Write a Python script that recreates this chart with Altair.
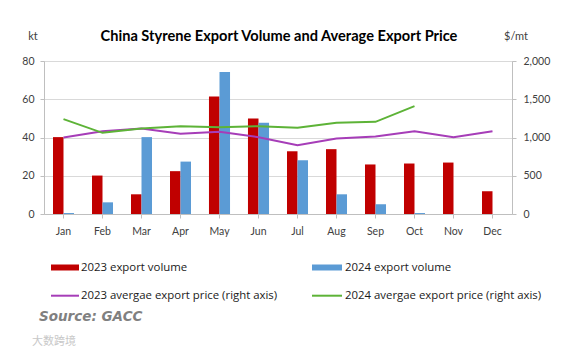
import altair as alt
import pandas as pd

months = ["Jan", "Feb", "Mar", "Apr", "May", "Jun", "Jul", "Aug", "Sep", "Oct", "Nov", "Dec"]
vol_2023 = [40.2, 20.1, 10.3, 22.4, 61.5, 50.0, 32.8, 33.9, 25.9, 26.4, 26.9, 11.9]
vol_2024 = [0.5, 6.1, 40.2, 27.4, 74.2, 47.7, 28.1, 10.3, 5.1, 0.5, None, None]
price_2023 = [1000, 1083, 1118, 1048, 1074, 1004, 900, 987, 1013, 1083, 1004, 1083]
price_2024 = [1240, 1061, 1118, 1148, 1135, 1148, 1127, 1192, 1205, 1410, None, None]

bar_series = ["2023 export volume", "2024 export volume"]
line_series = ["2023 avergae export price (right axis)", "2024 avergae export price (right axis)"]

RED = "#C00000"
BLUE = "#5B9BD5"
PURPLE = "#A63DB8"
GREEN = "#5DB337"
FONT = "Lato"
LFONT = "Open Sans"

bars_df = pd.DataFrame({
    "month": months * 2,
    "series": [bar_series[0]] * 12 + [bar_series[1]] * 12,
    "volume": vol_2023 + vol_2024,
}).dropna()

price_df = pd.DataFrame({
    "month": months * 2,
    "series": [line_series[0]] * 12 + [line_series[1]] * 12,
    "price": price_2023 + price_2024,
}).dropna()

x_enc = alt.X(
    "month:N", sort=months,
    scale=alt.Scale(paddingInner=0.46, paddingOuter=0.23),
    axis=alt.Axis(title=None, labelAngle=0, labelFont=FONT, labelFontSize=10.5,
                  labelColor="#404040", domainColor="#BFBFBF", tickColor="#BFBFBF",
                  tickSize=4, labelPadding=8, grid=False),
)

bars = alt.Chart(bars_df).mark_bar().encode(
    x=x_enc,
    xOffset=alt.XOffset("series:N", sort=bar_series,
                        scale=alt.Scale(paddingInner=0, paddingOuter=0)),
    y=alt.Y("volume:Q", scale=alt.Scale(domain=[0, 80]),
            axis=alt.Axis(title=None, values=[0, 20, 40, 60, 80], labelFont=FONT,
                          labelFontSize=10.5, labelColor="#404040",
                          domainColor="#BFBFBF", tickColor="#BFBFBF", tickSize=4,
                          labelPadding=6, gridColor="#D9D9D9", grid=True)),
    color=alt.Color("series:N", scale=alt.Scale(domain=bar_series, range=[RED, BLUE]),
                    legend=None),
)

lines = alt.Chart(price_df).mark_line(strokeWidth=2).encode(
    x=alt.X("month:N", sort=months),
    y=alt.Y("price:Q", scale=alt.Scale(domain=[0, 2000]),
            axis=alt.Axis(title=None, orient="right", values=[0, 500, 1000, 1500, 2000],
                          format=",.0f", labelFont=FONT, labelFontSize=10.5,
                          labelColor="#404040", domainColor="#BFBFBF",
                          tickColor="#BFBFBF", tickSize=4, labelPadding=7, grid=False)),
    color=alt.Color("series:N", scale=alt.Scale(domain=line_series, range=[PURPLE, GREEN]),
                    legend=None),
)


def text(t, x, y, **kw):
    return alt.Chart(pd.DataFrame({"t": [t]})).mark_text(**kw).encode(
        x=alt.value(x), y=alt.value(y), text="t:N")


def rect(x1, x2, y1, y2, color):
    return alt.Chart(pd.DataFrame({"a": [0]})).mark_rect(color=color).encode(
        x=alt.value(x1), x2=alt.value(x2), y=alt.value(y1), y2=alt.value(y2))


def rule(x1, x2, y, color):
    return alt.Chart(pd.DataFrame({"a": [0]})).mark_rule(color=color, strokeWidth=2).encode(
        x=alt.value(x1), x2=alt.value(x2), y=alt.value(y))


decor = [
    text("China Styrene Export Volume and Average  Export Price", 235, -24,
         font=FONT, fontSize=14.6, fontWeight="bold", color="#000000",
         align="center", baseline="middle"),
    text("kt", -11, -24, font=FONT, fontSize=11, color="#404040",
         align="center", baseline="middle"),
    text("$/mt", 472, -24, font=FONT, fontSize=11, color="#404040",
         align="center", baseline="middle"),
    rect(7, 35, 203.5, 209.5, RED),
    text(bar_series[0], 37, 206.5, font=LFONT, fontSize=11.4, color="#1A1A1A",
         align="left", baseline="middle"),
    rect(268, 298, 203.5, 209.5, BLUE),
    text(bar_series[1], 301, 206.5, font=LFONT, fontSize=11.4, color="#1A1A1A",
         align="left", baseline="middle"),
    rule(7, 35, 234.7, PURPLE),
    text(line_series[0], 37, 234.7, font=LFONT, fontSize=11.4, color="#1A1A1A",
         align="left", baseline="middle"),
    rule(268, 298, 234.7, GREEN),
    text(line_series[1], 301, 234.7, font=LFONT, fontSize=11.4, color="#1A1A1A",
         align="left", baseline="middle"),
    text("Source: GACC", -5, 255.7, font="DejaVu Sans", fontSize=13.5,
         fontWeight="bold", fontStyle="italic", color="#808080",
         align="left", baseline="middle"),
    text("大数跨境", -12, 280.7, font="Noto Sans CJK SC", fontSize=11,
         color="#C8C8C8", align="left", baseline="middle"),
]

chart = alt.layer(bars, lines, *decor).resolve_scale(
    y="independent", color="independent"
).properties(
    width=468, height=153,
    autosize=alt.AutoSizeParams(type="none"),
    padding={"left": 44, "top": 61, "right": 55, "bottom": 138},
).configure_view(stroke=None).configure(background="#FFFFFF")

chart.save("out.html", embed_options={"renderer": "svg", "actions": False})
